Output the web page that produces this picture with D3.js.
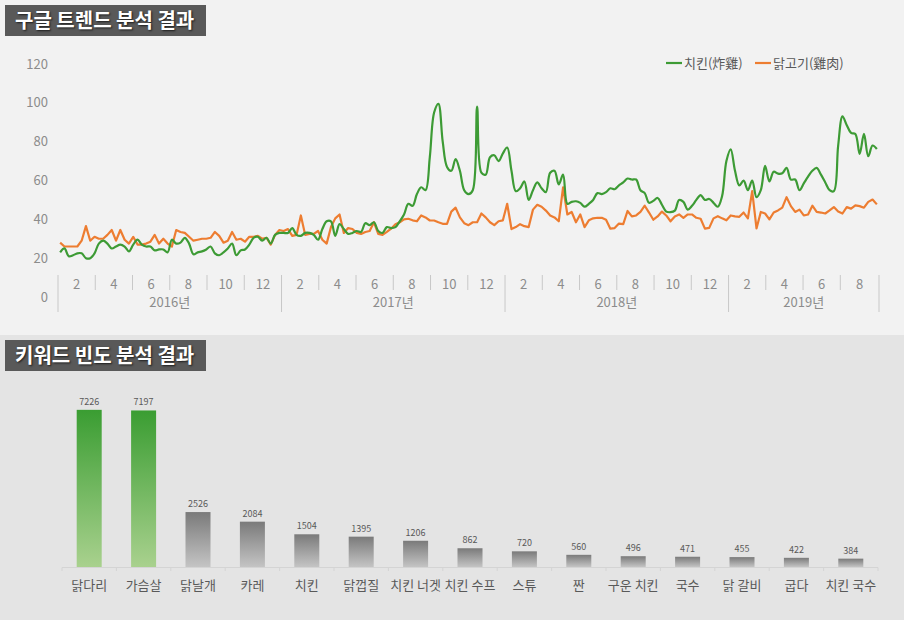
<!DOCTYPE html>
<html>
<head>
<meta charset="utf-8">
<script src="https://cdn.jsdelivr.net/npm/d3@7"></script>
<style>
  body { margin: 0; background: #f2f2f2; }
  svg { display: block; font-family: "Noto Sans CJK KR", "Noto Sans", sans-serif; }
  .titel { fill: #ffffff; font-weight: bold; font-size: 20px; text-shadow: 1px 1px 2px rgba(0,0,0,0.7); }
</style>
</head>
<body>
<div id="okvir"></div>
<script>
// podatci - tjedni google trends (2016.01 ~ 2019.08)
const godine = ["2016년", "2017년", "2018년", "2019년"];
const tjedniPoGodini = [52, 52, 52, 35];
const mjeseciOznake = ["2", "4", "6", "8", "10", "12"];
const yOznake = [0, 20, 40, 60, 80, 100, 120];

const serije = ["치킨(炸雞)", "닭고기(雞肉)"];

const piletina2016 = [23,25,21,21.5,22.5,22.5,20,20,22.5,27.5,29,27.5,25,26,27,26,23.5,27,29.5,27,26,26,24,24.5,24.5,23,29.5,27.5,28,30.5,27.5,22,23,23.5,24.5,26,22.5,21.5,23,25,27.5,21.5,24,24.5,27,30.5,31,29,30.5,27.5,32,33];
const piletina2017 = [33,33,35.5,32,31.5,33,33,32,29.5,35,39,39,31.5,37.5,35,32.5,33,34,33.5,38,37,38.5,34,33,36,35.5,36,39,42.5,48,47,53,56.5,55,72,95,99.5,80,67,65,71,65,55,53,55,98,64,63,72,73,70,74];
const piletina2018 = [77,65,54.5,56,59.5,50,55,59,56,54,64,65,58,63,48,49,49.3,48.5,46.5,48,50,53.5,53,54,56,55.5,57.5,59,61,60.5,60.5,55,53.5,48.5,49.5,51,47.5,44,43.7,44.5,50,49,45,47,50,52.5,50,50.5,48.5,46.5,52,70];
const piletina2019 = [76,65,57.5,59.9,55,60,51.4,55,67.5,59.5,64.5,63.5,63.7,66.5,60.5,60.5,55,58.5,62,65,66.5,63,59,55,54.5,78,93,88.5,84.5,84,73.7,84,72.5,78,76.2];

const meso2016 = [28,26,26,26,26,29,36.5,29,31,30,30,32,34.5,29,34.5,29.5,27.5,31,27,27,27.5,28.5,32,27.5,30,27.5,26,34.5,33.5,33,31,29,29.5,30,30,30.5,33.5,31.5,28,29,33.5,29.5,30,28.5,31,31,31.5,30,30.5,27,32,34.5];
const meso2017 = [34,35,31.5,32,42,32,32.5,32.5,34,29.5,27.5,36,40.5,42.5,33,35.5,35,33,32.5,33.5,34,38.5,32.5,32,33.5,35.2,37.5,38.5,40,40.3,39.5,39,42,41,39.4,39.4,38.5,37.7,37.7,44,46,41,38,37,38.5,38.5,43,41,38.5,37,39,39.5];
const meso2018 = [48,35,36,37.5,36.5,36,45,47.5,46.5,44.5,42,41,39,56.5,42.5,43.8,38.5,42.5,36,39.5,40.5,40.8,40.8,39.8,35.2,35.5,37.8,37.5,44.3,41.5,42,43.8,47,43.5,39.8,41.5,44,42,39,41.5,42.5,40.8,42.5,42.5,40.8,40.3,35.2,35.6,40.5,41.6,40.5,39.5];
const meso2019 = [42,41.5,41.3,43.5,40.5,54.5,35.3,43.8,43,40,43.5,44.6,46,51.4,46.8,43.8,45,42,42.5,47,43.8,43.5,43,44.6,46.3,44,43,46.3,45.5,47.2,46.8,46,49,50.2,47.7];

// podatci - frekvencija kljucnih rijeci
const kljucneRijeci = ["닭다리","가슴살","닭날개","카레","치킨","닭껍질","치킨 너겟","치킨 수프","스튜","짠","구운 치킨","국수","닭 갈비","굽다","치킨 국수"];
const frekvencije = [7226,7197,2526,2084,1504,1395,1206,862,720,560,496,471,455,422,384];

const crtaj = () => {
  const piletina = [...piletina2016, ...piletina2017, ...piletina2018, ...piletina2019];
  const meso = [...meso2016, ...meso2017, ...meso2018, ...meso2019];
  const brojTjedana = d3.sum(tjedniPoGodini);

  const svg = d3.select("#okvir").append("svg")
    .attr("width", 904)
    .attr("height", 620);

  // pozadine
  svg.append("rect").attr("x", 0).attr("y", 0).attr("width", 904).attr("height", 335).attr("fill", "#f2f2f2");
  svg.append("rect").attr("x", 0).attr("y", 335).attr("width", 904).attr("height", 285).attr("fill", "#e4e4e4");

  const naslov = (y, tekst) => {
    svg.append("rect").attr("x", 5).attr("y", y).attr("width", 201).attr("height", 31).attr("fill", "#595959");
    svg.append("text").attr("class", "titel")
      .attr("x", 15).attr("y", y + 23)
      .text(tekst);
  };
  naslov(5, "구글 트렌드 분석 결과");
  naslov(340, "키워드 빈도 분석 결과");

  // 1. linijski graf
  const xMjerilo = d3.scaleLinear().domain([0, brojTjedana]).range([58, 879]);
  const yMjerilo = d3.scaleLinear().domain([0, 120]).range([297, 64]);

  svg.append("g").selectAll("text")
    .data(yOznake)
    .join("text")
    .attr("x", 48)
    .attr("y", d => yMjerilo(d))
    .attr("dy", "0.35em")
    .attr("text-anchor", "end")
    .attr("font-size", 13)
    .attr("fill", "#8c8c8c")
    .text(d => d);

  // x os - mjeseci i godine
  const os = svg.append("g");
  let pocetak = 0;
  godine.forEach((g, gi) => {
    const tjedni = tjedniPoGodini[gi];
    const korak = 52 / 6;
    const grupe = Math.round(tjedni / korak);
    const x0 = xMjerilo(pocetak);
    const x1 = xMjerilo(pocetak + tjedni);
    os.append("line").attr("x1", x0).attr("x2", x0).attr("y1", 275).attr("y2", 312)
      .attr("stroke", "#c8c8c8").attr("stroke-width", 1);
    for (let k = 0; k < grupe; k++) {
      const a = pocetak + k * korak;
      const b = k === grupe - 1 ? pocetak + tjedni : pocetak + (k + 1) * korak;
      if (k > 0) {
        os.append("line").attr("x1", xMjerilo(a)).attr("x2", xMjerilo(a)).attr("y1", 275).attr("y2", 290)
          .attr("stroke", "#c8c8c8").attr("stroke-width", 1);
      }
      os.append("text")
        .attr("x", (xMjerilo(a) + xMjerilo(b)) / 2)
        .attr("y", 284).attr("dy", "0.35em")
        .attr("text-anchor", "middle")
        .attr("font-size", 13).attr("fill", "#8c8c8c")
        .text(mjeseciOznake[k]);
    }
    os.append("text")
      .attr("x", (x0 + x1) / 2).attr("y", 302).attr("dy", "0.35em")
      .attr("text-anchor", "middle")
      .attr("font-size", 13).attr("fill", "#8c8c8c")
      .text(g);
    pocetak += tjedni;
  });
  os.append("line").attr("x1", xMjerilo(brojTjedana)).attr("x2", xMjerilo(brojTjedana))
    .attr("y1", 275).attr("y2", 312).attr("stroke", "#c8c8c8");

  const linijaMeso = d3.line()
    .x((d, i) => xMjerilo(i + 0.5))
    .y(d => yMjerilo(d));
  const linijaPiletina = d3.line()
    .x((d, i) => xMjerilo(i + 0.5))
    .y(d => yMjerilo(d))
    .curve(d3.curveCatmullRom.alpha(0.5));

  svg.append("path").attr("d", linijaMeso(meso))
    .attr("fill", "none").attr("stroke", "#ed7d31").attr("stroke-width", 2.2).attr("stroke-linejoin", "round");
  svg.append("path").attr("d", linijaPiletina(piletina))
    .attr("fill", "none").attr("stroke", "#3d9b35").attr("stroke-width", 2.2).attr("stroke-linejoin", "round");

  // legenda
  const boje = ["#3d9b35", "#ed7d31"];
  const legX = [666, 755];
  serije.forEach((s, i) => {
    svg.append("line").attr("x1", legX[i]).attr("x2", legX[i] + 16).attr("y1", 63).attr("y2", 63)
      .attr("stroke", boje[i]).attr("stroke-width", 2.2);
    svg.append("text").attr("x", legX[i] + 18).attr("y", 63).attr("dy", "0.35em")
      .attr("font-size", 13).attr("fill", "#595959").text(s);
  });

  // 2. stupcasti graf
  const defs = svg.append("defs");
  const gradijent = (id, gore, dolje) => {
    const lg = defs.append("linearGradient").attr("id", id).attr("x1", 0).attr("y1", 0).attr("x2", 0).attr("y2", 1);
    lg.append("stop").attr("offset", "0%").attr("stop-color", gore);
    lg.append("stop").attr("offset", "100%").attr("stop-color", dolje);
  };
  gradijent("zeleni", "#3a9d32", "#a9d18e");
  gradijent("sivi", "#7a7a7a", "#c4c4c4");

  const xBand = d3.scaleBand().domain(kljucneRijeci).range([62, 878]).padding(0);
  const yBar = d3.scaleLinear().domain([0, 8000]).range([567, 393]);
  const sirina = 25;

  svg.append("line").attr("x1", 62).attr("x2", 878).attr("y1", 567.5).attr("y2", 567.5)
    .attr("stroke", "#d4d4d4").attr("stroke-width", 1);
  svg.append("g").selectAll("line")
    .data(d3.range(kljucneRijeci.length + 1))
    .join("line")
    .attr("x1", i => 62 + i * xBand.step()).attr("x2", i => 62 + i * xBand.step())
    .attr("y1", 567.5).attr("y2", 571)
    .attr("stroke", "#d4d4d4");

  const stupci = svg.append("g");
  stupci.selectAll("rect")
    .data(kljucneRijeci)
    .join("rect")
    .attr("x", d => xBand(d) + xBand.bandwidth() / 2 - sirina / 2)
    .attr("width", sirina)
    .attr("y", (d, i) => yBar(frekvencije[i]))
    .attr("height", (d, i) => yBar(0) - yBar(frekvencije[i]))
    .attr("fill", (d, i) => i < 2 ? "url(#zeleni)" : "url(#sivi)");

  stupci.selectAll("text.vrijednost")
    .data(kljucneRijeci)
    .join("text")
    .attr("class", "vrijednost")
    .attr("x", d => xBand(d) + xBand.bandwidth() / 2)
    .attr("y", (d, i) => yBar(frekvencije[i]) - 5)
    .attr("text-anchor", "middle")
    .attr("font-size", 9)
    .attr("fill", "#595959")
    .text((d, i) => frekvencije[i]);

  stupci.selectAll("text.kategorija")
    .data(kljucneRijeci)
    .join("text")
    .attr("class", "kategorija")
    .attr("x", d => xBand(d) + xBand.bandwidth() / 2)
    .attr("y", 585).attr("dy", "0.35em")
    .attr("text-anchor", "middle")
    .attr("font-size", 13)
    .attr("fill", "#595959")
    .text(d => d);
};

crtaj();
</script>
</body>
</html>
